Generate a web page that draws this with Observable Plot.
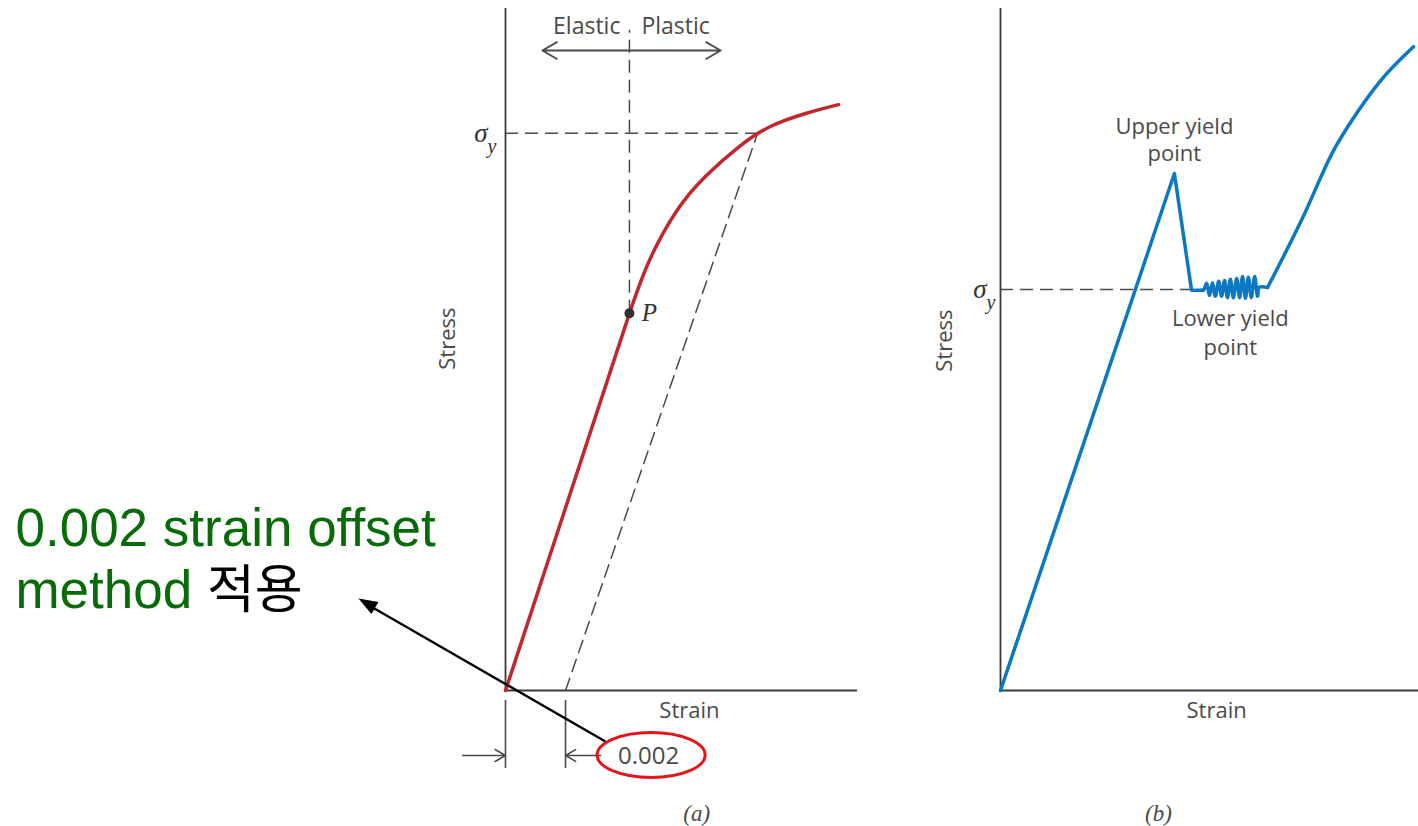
<!DOCTYPE html>
<html><head><meta charset="utf-8">
<script src="https://cdn.jsdelivr.net/npm/d3@7"></script>
<script src="https://cdn.jsdelivr.net/npm/@observablehq/plot@0.6"></script>
<style>
html,body{margin:0;padding:0;background:#fff;}
#wrap{position:relative;width:1418px;height:826px;overflow:hidden;background:#fff;}
#a,#b{position:absolute;top:0;}
#a{left:0;} #b{left:880px;}
</style></head><body><div id="wrap"><div id="a"></div><div id="b"></div></div>
<script>
// ---------- Panel (a): 0.002 offset method ----------
const elasticStrainA = [0, 0.00413];
const elasticStressA = [0, 55.3];
const plasticStrainA = [0.00413, 0.00477, 0.00567, 0.00667, 0.00783, 0.00883, 0.0100, 0.01110];
const plasticStressA = [55.3, 62.8, 70.1, 75.4, 79.9, 82.7, 84.6, 85.9];
const offsetStrainA = [0.002, 0.0084];
const offsetStressA = [0, 81.7];
const sigmaYA = 81.7;
const yieldStrainA = 0.0084;
const pointP = {strain: 0.00413, stress: 55.3};
const offsetValue = 0.002;
const offsetLabel = "0.002";
const regionLabels = ["Elastic", "Plastic"];
const noteGreen = "0.002 strain offset\nmethod";
const noteKorean = "적용";

// ---------- Panel (b): upper / lower yield point ----------
const riseStrainB = [0, 41.6, 45.7, 48.3];
const riseStressB = [0, 75.8, 58.7, 58.7];
const wiggleStrainB = [48.3, 48.6, 49.3, 50.0, 50.7, 51.4, 52.2, 52.9, 53.6, 54.3, 55.0, 55.7, 56.5, 57.2, 57.9, 58.6, 59.3, 60.0, 60.8, 61.5, 61.9, 63.9];
const wiggleStressB = [58.7, 58.7, 59.7, 57.9, 59.8, 57.8, 60.0, 57.8, 60.1, 57.6, 60.3, 57.6, 60.4, 57.6, 60.7, 57.5, 60.6, 57.6, 60.7, 57.8, 59.1, 59.1];
const hardenStrainB = [63.9, 72.2, 79.7, 84.4, 90.9, 98.8];
const hardenStressB = [59.1, 69.2, 79.2, 83.9, 89.4, 94.4];
const sigmaYB = 58.8;
const lowerFlatEndB = 45.7;
const upperYield = {strain: 41.6, stress: 75.8};
const upperLabel = "Upper yield\npoint";
const lowerLabel = "Lower yield\npoint";

const zip = (xs, ys) => xs.map((x, i) => ({x, y: ys[i]}));

const GRAY = "#4a4a4a";
const AXIS = "#3a3a3a";
const DASH = "#4a4a4a";
const RED = "#c1272d";
const BLUE = "#0a78c2";
const SANS = "'Open Sans', 'Noto Sans', sans-serif";
const SERIF = "'Liberation Serif', 'DejaVu Serif', serif";
const NOTE_FONT = "'Liberation Sans', Arial, 'Noto Sans CJK KR', sans-serif";
const lbl = {fontFamily: SANS, fontSize: 22, fill: GRAY};
const dash = {stroke: DASH, strokeWidth: 1.5, strokeDasharray: "13,7"};

const pa = Plot.plot({
  width: 880, height: 826,
  marginLeft: 505, marginRight: 23, marginTop: 8, marginBottom: 136,
  x: {domain: [0, 0.01173], axis: null},
  y: {domain: [0, 100], axis: null},
  style: {background: "transparent", overflow: "visible"},
  marks: [
    // dashed constructions
    Plot.ruleY([sigmaYA], {x1: 0, x2: yieldStrainA, ...dash}),
    Plot.ruleX([pointP.strain], {y1: pointP.stress, y2: 96.8, ...dash}),
    Plot.line(zip(offsetStrainA, offsetStressA), {x: "x", y: "y", ...dash}),
    // axes
    Plot.ruleX([0], {y1: 0, y2: 100, stroke: AXIS, strokeWidth: 1.8}),
    Plot.ruleY([0], {x1: 0, x2: 0.01173, stroke: AXIS, strokeWidth: 1.8}),
    // curve
    Plot.line(zip(elasticStrainA, elasticStressA), {x: "x", y: "y", stroke: RED, strokeWidth: 3.5}),
    Plot.line(zip(plasticStrainA, plasticStressA), {x: "x", y: "y", stroke: RED, strokeWidth: 3.5, curve: "natural"}),
    Plot.dot([pointP], {x: "strain", y: "stress", r: 5, fill: "#333", stroke: "none"}),
    Plot.text([pointP], {x: "strain", y: "stress", text: () => "P", dx: 20, fontFamily: SERIF, fontStyle: "italic", fontSize: 25, fill: "#333"}),
    // sigma_y label
    Plot.text([sigmaYA], {x: 0, y: d => d, text: () => "σ", dx: -18, textAnchor: "end", fontFamily: SERIF, fontStyle: "italic", fontSize: 27, fill: "#333"}),
    Plot.text([sigmaYA], {x: 0, y: d => d, text: () => "y", dx: -18, dy: 13, textAnchor: "start", fontFamily: SERIF, fontStyle: "italic", fontSize: 20, fill: "#333"}),
    // Elastic / Plastic
    Plot.arrow([0], {x1: pointP.strain, x2: 0.00123, y1: 93.84, y2: 93.84, stroke: GRAY, strokeWidth: 1.8, headLength: 14}),
    Plot.arrow([0], {x1: pointP.strain, x2: 0.00717, y1: 93.84, y2: 93.84, stroke: GRAY, strokeWidth: 1.8, headLength: 14}),
    Plot.text([regionLabels[0]], {x: 0.00383, y: 97.4, text: d => d, textAnchor: "end", ...lbl, fontSize: 23}),
    Plot.text([regionLabels[1]], {x: 0.00453, y: 97.4, text: d => d, textAnchor: "start", ...lbl, fontSize: 23}),
    // axis titles
    Plot.text(["Stress"], {x: 0, y: 51.6, dx: -58, rotate: -90, text: d => d, ...lbl}),
    Plot.text(["Strain"], {x: 0.00613, y: 0, dy: 20, text: d => d, ...lbl}),
    Plot.text(["(a)"], {x: 0.00637, y: 0, dy: 123, text: d => d, fontFamily: SERIF, fontStyle: "italic", fontSize: 23, fill: GRAY}),
    // offset dimension
    Plot.ruleX([0, offsetValue], {y1: -1.47, y2: -11.44, stroke: GRAY, strokeWidth: 1.6}),
    Plot.arrow([0], {x1: -0.00143, x2: 0, y1: -9.53, y2: -9.53, stroke: GRAY, strokeWidth: 1.5, headLength: 12}),
    Plot.arrow([0], {x1: 0.00317, x2: offsetValue, y1: -9.53, y2: -9.53, stroke: GRAY, strokeWidth: 1.5, headLength: 12}),
    Plot.text([offsetLabel], {x: 0.00477, y: -9.68, text: d => d, ...lbl, fontSize: 24}),
    // annotation arrow (line + filled head)
    Plot.link([0], {x1: 0.00333, y1: -7.48, x2: -0.0046, y2: 12.6, stroke: "#000", strokeWidth: 2.4}),
    Plot.vector([0], {x: -0.0049, y: 13.49, anchor: "end", shape: "spike", length: 19, r: 7, rotate: -60, fill: "#000", stroke: "none"}),
    Plot.text([noteGreen], {x: -0.01633, y: 19.5, text: d => d, textAnchor: "start", lineHeight: 1.17, fontFamily: NOTE_FONT, fontSize: 53, fill: "#076b07"})
  ]
});
// append the black Korean word to the green note's second line (same text element)
d3.select(pa).selectAll("tspan")
  .filter(function () { return this.textContent === "method"; })
  .each(function () {
    const t = d3.select(this);
    t.text("method ");
    t.append("tspan").text(noteKorean)
      .attr("fill", "#000")
      .attr("font-size", 52);
  });
// red ellipse around 0.002, centred through the plot's scales
const sx = pa.scale("x"), sy = pa.scale("y");
d3.select(pa).append("ellipse")
  .attr("cx", sx.apply(0.00487)).attr("cy", sy.apply(-9.53))
  .attr("rx", 54).attr("ry", 22.5)
  .attr("fill", "none").attr("stroke", "#e8141b").attr("stroke-width", 3);
document.getElementById("a").appendChild(pa);

const pb = Plot.plot({
  width: 538, height: 826,
  marginLeft: 120, marginRight: 0, marginTop: 8, marginBottom: 136,
  x: {domain: [0, 100], axis: null},
  y: {domain: [0, 100], axis: null},
  style: {background: "transparent", overflow: "visible"},
  marks: [
    Plot.ruleY([sigmaYB], {x1: 0, x2: lowerFlatEndB, ...dash}),
    Plot.ruleX([0], {y1: 0, y2: 100, stroke: AXIS, strokeWidth: 1.8}),
    Plot.ruleY([0], {x1: 0, x2: 100, stroke: AXIS, strokeWidth: 1.8}),
    Plot.line(zip(riseStrainB, riseStressB), {x: "x", y: "y", stroke: BLUE, strokeWidth: 3.5}),
    Plot.line(zip(wiggleStrainB, wiggleStressB), {x: "x", y: "y", stroke: BLUE, strokeWidth: 3.5, curve: "catmull-rom"}),
    Plot.line(zip(hardenStrainB, hardenStressB), {x: "x", y: "y", stroke: BLUE, strokeWidth: 3.5, curve: "monotone-x"}),
    Plot.text([sigmaYB], {x: 0, y: d => d, text: () => "σ", dx: -14, textAnchor: "end", fontFamily: SERIF, fontStyle: "italic", fontSize: 27, fill: "#333"}),
    Plot.text([sigmaYB], {x: 0, y: d => d, text: () => "y", dx: -14, dy: 13, textAnchor: "start", fontFamily: SERIF, fontStyle: "italic", fontSize: 20, fill: "#333"}),
    Plot.text([upperLabel], {x: upperYield.strain, y: 80.94, text: d => d, lineHeight: 1.23, ...lbl}),
    Plot.text([lowerLabel], {x: 55.0, y: 52.71, text: d => d, lineHeight: 1.32, ...lbl}),
    Plot.text(["Stress"], {x: 0, y: 51.3, dx: -56, rotate: -90, text: d => d, ...lbl}),
    Plot.text(["Strain"], {x: 51.7, y: 0, dy: 20, text: d => d, ...lbl}),
    Plot.text(["(b)"], {x: 37.8, y: 0, dy: 123, text: d => d, fontFamily: SERIF, fontStyle: "italic", fontSize: 23, fill: GRAY})
  ]
});
document.getElementById("b").appendChild(pb);
</script>
</body></html>
